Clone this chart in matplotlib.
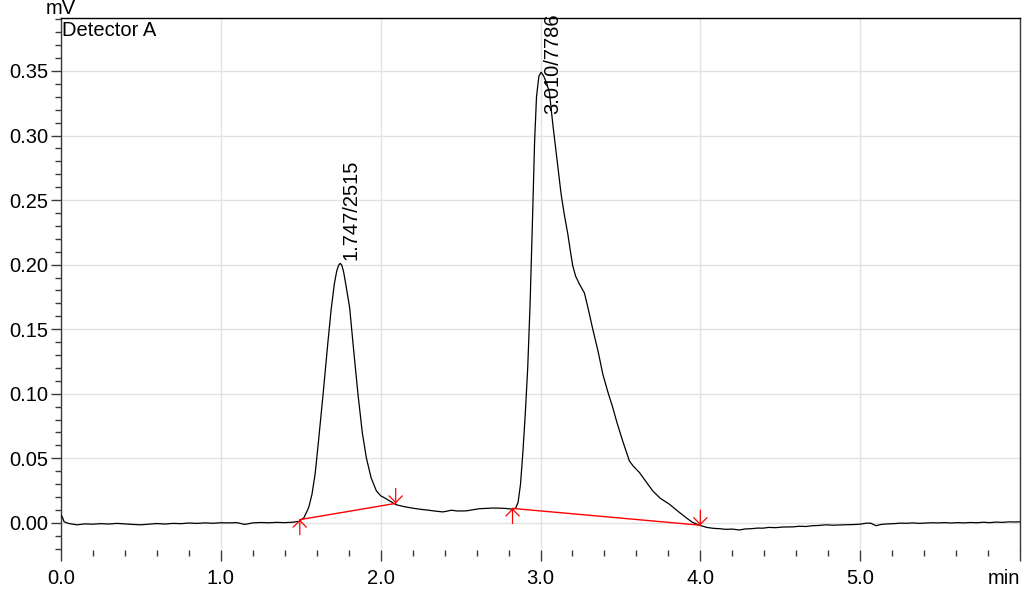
import numpy as np
import matplotlib
matplotlib.use("Agg")
import matplotlib.pyplot as plt

plt.rcParams['font.family'] = ['Liberation Sans', 'DejaVu Sans']

# chromatogram trace
timeMin = [0.000, 0.010, 0.020, 0.05, 0.10, 0.15, 0.20, 0.25, 0.30, 0.35, 0.40, 0.45, 0.50, 0.55, 0.60,
           0.65, 0.70, 0.75, 0.80, 0.85, 0.90, 0.95, 1.00, 1.05, 1.10, 1.15, 1.20, 1.25, 1.30, 1.35,
           1.40, 1.45, 1.49, 1.52, 1.55, 1.57, 1.59, 1.61, 1.64, 1.67, 1.69, 1.71, 1.725, 1.737, 1.747,
           1.757, 1.768, 1.78, 1.806, 1.83, 1.858, 1.885, 1.91, 1.94, 1.973, 2.00, 2.03, 2.056, 2.098,
           2.15, 2.20, 2.25, 2.30, 2.35, 2.389, 2.42, 2.442, 2.48, 2.535, 2.57, 2.619, 2.66, 2.70,
           2.744, 2.78, 2.827, 2.845, 2.86, 2.875, 2.89, 2.905, 2.92, 2.935, 2.95, 2.963, 2.975, 2.99,
           3.004, 3.02, 3.04, 3.056, 3.077, 3.10, 3.129, 3.15, 3.171, 3.19, 3.202, 3.22, 3.244, 3.275,
           3.30, 3.327, 3.36, 3.39, 3.42, 3.452, 3.48, 3.514, 3.54, 3.556, 3.58, 3.619, 3.66, 3.702,
           3.75, 3.806, 3.86, 3.91, 3.95, 3.994, 4.04, 4.08, 4.12, 4.16, 4.20, 4.244, 4.28, 4.32,
           4.36, 4.39, 4.43, 4.47, 4.52, 4.577, 4.62, 4.66, 4.70, 4.74, 4.785, 4.83, 4.87, 4.92,
           4.96, 5.00, 5.04, 5.067, 5.10, 5.13, 5.17, 5.21, 5.25, 5.29, 5.33, 5.37, 5.41, 5.45,
           5.49, 5.53, 5.57, 5.61, 5.65, 5.69, 5.73, 5.77, 5.81, 5.85, 5.89, 5.93, 5.97, 6.00]
signalMV = [0.0060, 0.0040, 0.0008, -0.0005, -0.0015, -0.0008, -0.0010, -0.0006, -0.0009, -0.0004,
            -0.0008, -0.0012, -0.0015, -0.0010, -0.0005, -0.0009, -0.0004, -0.0006, -0.0001, -0.0004,
            0.0000, -0.0003, 0.0001, 0.0000, 0.0002, -0.0012, 0.0000, 0.0003, 0.0001, 0.0004,
            0.0002, 0.0005, 0.0012, 0.0040, 0.0120, 0.0220, 0.0380, 0.0620, 0.1000, 0.1400,
            0.1650, 0.1850, 0.1950, 0.1995, 0.2010, 0.1995, 0.1945, 0.1860, 0.1667, 0.1350,
            0.0997, 0.0700, 0.0506, 0.0350, 0.0248, 0.0210, 0.0190, 0.0170, 0.0140,
            0.0125, 0.0114, 0.0105, 0.0098, 0.0090, 0.0085, 0.0092, 0.0098, 0.0092, 0.0093, 0.0100,
            0.0110, 0.0112, 0.0115, 0.0114, 0.0112, 0.0106, 0.0115, 0.0160, 0.0300, 0.0550, 0.0850,
            0.1200, 0.1700, 0.2350, 0.2950, 0.3300, 0.3460, 0.3490, 0.3460, 0.3400, 0.3332, 0.3087,
            0.2850, 0.2545, 0.2380, 0.2236, 0.2080, 0.1990, 0.1910, 0.1848, 0.1780, 0.1650, 0.1500,
            0.1330, 0.1151, 0.1020, 0.0893, 0.0770, 0.0635, 0.0540, 0.0480, 0.0440, 0.0390, 0.0320,
            0.0248, 0.0190, 0.0145, 0.0090, 0.0041, 0.0005, -0.0018, -0.0035, -0.0042, -0.0045,
            -0.0050, -0.0048, -0.0055, -0.0047, -0.0045, -0.0040, -0.0041, -0.0035, -0.0037, -0.0032,
            -0.0031, -0.0026, -0.0028, -0.0022, -0.0020, -0.0015, -0.0018, -0.0016, -0.0014, -0.0013,
            -0.0010, -0.0002, -0.0003, -0.0022, -0.0012, -0.0008, -0.0006, -0.0002, -0.0003, 0.0000,
            -0.0004, -0.0001, 0.0001, 0.0000, 0.0002, -0.0001, 0.0002, 0.0000, 0.0003, 0.0001,
            0.0005, 0.0002, 0.0006, 0.0004, 0.0008, 0.0007, 0.0008]

# integration baselines (start / end of each peak)
baseStartT = [1.494, 2.825]
baseStartY = [0.0025, 0.0112]
baseEndT = [2.094, 4.000]
baseEndY = [0.0151, -0.0018]

# peak labels: retention time / area
peakRT = [1.747, 3.010]
peakArea = [2515, 7786]
peakHeight = [0.201, 0.349]

xTickLabels = ['0.0', '1.0', '2.0', '3.0', '4.0', '5.0', 'min']
yTickLabels = ['0.00', '0.05', '0.10', '0.15', '0.20', '0.25', '0.30', '0.35']

fontSize = 14.5
axisColor = '#3a3a3a'

fig = plt.figure(figsize=(10.31, 5.91), dpi=100)
ax = fig.add_axes([61 / 1031, 1 - 550 / 591, (1020 - 61) / 1031, (550 - 18) / 591])

ax.plot(timeMin, signalMV, color='black', lw=0.9, zorder=3)

for t0, y0, t1, y1 in zip(baseStartT, baseStartY, baseEndT, baseEndY):
    ax.plot([t0, t1], [y0, y1], color='red', lw=1, zorder=4)
    arrowStyle = dict(arrowstyle='->,head_length=0.4,head_width=0.4', color='red', lw=0.9,
                      shrinkA=0, shrinkB=0, mutation_scale=12)
    # start marker points up, end marker points down
    ax.annotate('', xy=(t0, y0), xytext=(0, -15), textcoords='offset pixels', arrowprops=arrowStyle, zorder=5)
    ax.annotate('', xy=(t1, y1), xytext=(0, 15), textcoords='offset pixels', arrowprops=arrowStyle, zorder=5)

for rt, area, h in zip(peakRT, peakArea, peakHeight):
    labelY = min(h, 0.314) #keep the tall label inside the figure
    ax.annotate(f"{rt:.3f}/{area}", xy=(rt, labelY), xytext=(1, 3), textcoords='offset pixels',
                rotation=90, ha='left', va='bottom', fontsize=fontSize, zorder=6)

ax.set_xlim(0, 6)
ax.set_ylim(-0.021, 0.391)

ax.set_xticks(np.arange(0, 7, 1.0))
ax.set_xticklabels(xTickLabels)
ax.get_xticklabels()[-1].set_horizontalalignment('right') #"min" sits flush with the right edge
ax.set_xticks(np.arange(0, 6.01, 0.2), minor=True)
ax.set_yticks(np.arange(0, 0.351, 0.05))
ax.set_yticklabels(yTickLabels)
ax.set_yticks(np.arange(-0.02, 0.391, 0.01), minor=True)

ax.tick_params(axis='x', which='major', length=8, width=1, color=axisColor, pad=6, labelsize=fontSize)
ax.tick_params(axis='x', which='minor', length=4, width=1, color=axisColor)
ax.tick_params(axis='y', which='major', length=7, width=1, color=axisColor, pad=2, labelsize=fontSize)
ax.tick_params(axis='y', which='minor', length=4, width=1, color=axisColor)

ax.grid(True, which='major', color='#e2e2e2', lw=1)
ax.set_axisbelow(True)

ax.spines['bottom'].set_visible(False)
for side in ['top', 'right', 'left']:
    ax.spines[side].set_color(axisColor)
    ax.spines[side].set_linewidth(1)
ax.spines['top'].set_color('black')

ax.text(0.001, 0.995, 'Detector A', transform=ax.transAxes, ha='left', va='top', fontsize=fontSize)
ax.text(0.0, 1.0, 'mV', transform=ax.transAxes, ha='center', va='bottom', fontsize=fontSize)

fig.savefig('out.png', dpi=100)
